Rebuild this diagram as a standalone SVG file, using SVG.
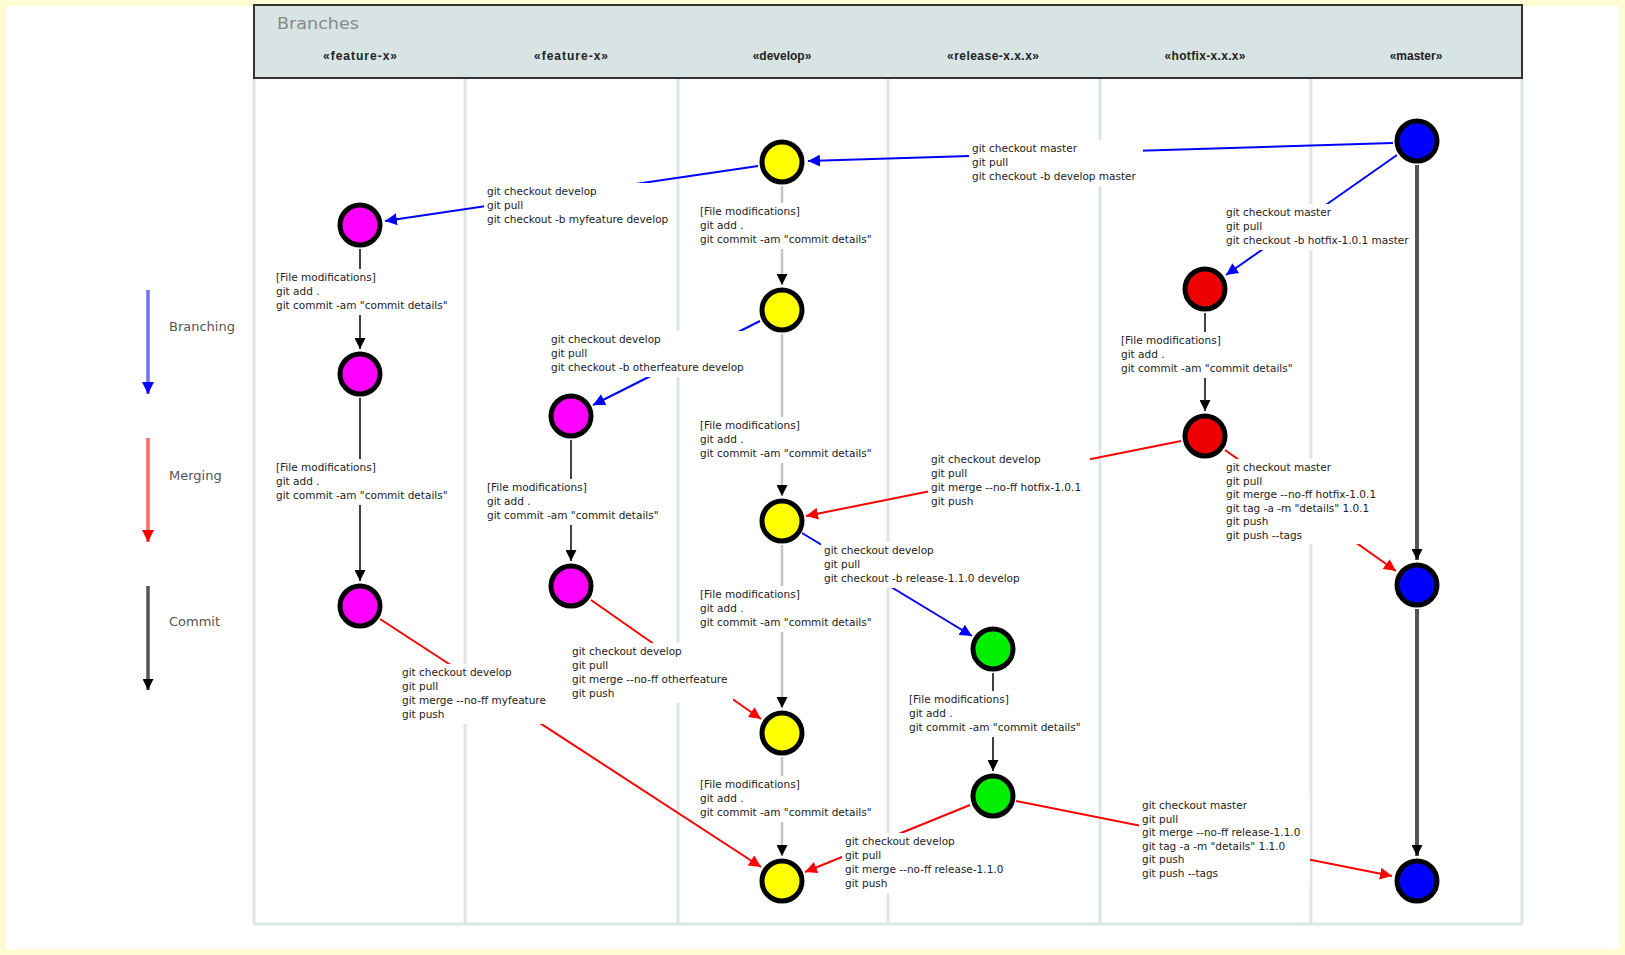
<svg xmlns="http://www.w3.org/2000/svg" width="1625" height="955" viewBox="0 0 1625 955">
<defs>
<marker id="ah-k" viewBox="0 0 10 10" refX="10" refY="5" markerWidth="11" markerHeight="11" markerUnits="userSpaceOnUse" orient="auto"><path d="M0,0 L10,5 L0,10 z" fill="#000"/></marker>
<marker id="ah-b" viewBox="0 0 10 10" refX="10" refY="5" markerWidth="12" markerHeight="12" markerUnits="userSpaceOnUse" orient="auto"><path d="M0,0 L10,5 L0,10 z" fill="#0000ff"/></marker>
<marker id="ah-r" viewBox="0 0 10 10" refX="10" refY="5" markerWidth="12" markerHeight="12" markerUnits="userSpaceOnUse" orient="auto"><path d="M0,0 L10,5 L0,10 z" fill="#ff0000"/></marker>
</defs>
<style>
.lane{stroke:#dbe6e6;stroke-width:3;fill:none}
.node{stroke:#000;stroke-width:5}
.dev{fill:#ffff00}.feat{fill:#ff00ff}.rel{fill:#00ee00}.hot{fill:#ee0000}.mas{fill:#0000ff}
.br{stroke:#0000ff;stroke-width:2;fill:none;marker-end:url(#ah-b)}
.mg{stroke:#ff0000;stroke-width:2;fill:none;marker-end:url(#ah-r)}
.cm{stroke:#000;stroke-width:1.5;fill:none;marker-end:url(#ah-k)}
.cmd{stroke:#c4c4c4;stroke-width:2.5;fill:none;marker-end:url(#ah-k)}
.cmm{stroke:#555;stroke-width:4;fill:none;marker-end:url(#ah-k)}
.lbg{fill:#fff}
.lt{font-family:"DejaVu Sans",Verdana,sans-serif;font-size:10.5px;fill:#222}
.hd{font-family:"Liberation Sans",Arial,sans-serif;font-size:12px;font-weight:bold;fill:#222;text-anchor:middle}
.lg{font-family:"DejaVu Sans",Verdana,sans-serif;font-size:13px;fill:#555}
</style>
<rect x="0" y="0" width="1625" height="955" fill="#fffbd2"/>
<rect x="6" y="6" width="1613" height="943" fill="#ffffff"/>

<g id="lanes">
<line class="lane" x1="254" y1="78" x2="254" y2="924"/>
<line class="lane" x1="465" y1="78" x2="465" y2="924"/>
<line class="lane" x1="678" y1="78" x2="678" y2="924"/>
<line class="lane" x1="888" y1="78" x2="888" y2="924"/>
<line class="lane" x1="1100" y1="78" x2="1100" y2="924"/>
<line class="lane" x1="1311" y1="78" x2="1311" y2="924"/>
<line class="lane" x1="1522" y1="78" x2="1522" y2="924"/>
<line class="lane" x1="254" y1="924" x2="1522" y2="924"/>
</g>

<g id="header">
<rect x="254" y="5" width="1268" height="73" fill="#d8e4e4" stroke="#333" stroke-width="2"/>
<text x="277" y="29" font-family="DejaVu Sans, Verdana, sans-serif" font-size="15" fill="#888" textLength="82" lengthAdjust="spacingAndGlyphs">Branches</text>
<text class="hd" x="360" y="60" textLength="74">«feature-x»</text>
<text class="hd" x="571" y="60" textLength="74">«feature-x»</text>
<text class="hd" x="782" y="60">«develop»</text>
<text class="hd" x="993" y="60" textLength="92">«release-x.x.x»</text>
<text class="hd" x="1205" y="60" textLength="81">«hotfix-x.x.x»</text>
<text class="hd" x="1416" y="60">«master»</text>
</g>

<g id="legend">
<line x1="148" y1="290" x2="148" y2="394" stroke="#7070ff" stroke-width="3.5" marker-end="url(#ah-b)"/>
<text class="lg" x="169" y="331">Branching</text>
<line x1="148" y1="438" x2="148" y2="542" stroke="#ff6666" stroke-width="3.5" marker-end="url(#ah-r)"/>
<text class="lg" x="169" y="480">Merging</text>
<line x1="148" y1="586" x2="148" y2="690" stroke="#555" stroke-width="3.5" marker-end="url(#ah-k)"/>
<text class="lg" x="169" y="626">Commit</text>
</g>

<g id="connectors">
<line class="cmd" x1="782" y1="186" x2="782" y2="285"/>
<line class="cmd" x1="782" y1="334" x2="782" y2="496"/>
<line class="cmd" x1="782" y1="545" x2="782" y2="708"/>
<line class="cmd" x1="782" y1="757" x2="782" y2="856"/>
<line class="cm" x1="360" y1="249" x2="360" y2="349"/>
<line class="cm" x1="360" y1="398" x2="360" y2="581"/>
<line class="cm" x1="571" y1="440" x2="571" y2="561"/>
<line class="cm" x1="993" y1="673" x2="993" y2="771"/>
<line class="cm" x1="1205" y1="313" x2="1205" y2="411"/>
<line class="cmm" x1="1417" y1="165" x2="1417" y2="560"/>
<line class="cmm" x1="1417" y1="609" x2="1417" y2="856"/>
<line class="br" x1="1393" y1="143" x2="808" y2="161"/>
<line class="br" x1="758" y1="166" x2="385" y2="221"/>
<line class="br" x1="760" y1="321" x2="593" y2="405"/>
<line class="br" x1="1397" y1="155" x2="1226" y2="275"/>
<line class="br" x1="802" y1="533" x2="972" y2="636"/>
<line class="mg" x1="1181" y1="441" x2="806" y2="516"/>
<line class="mg" x1="1225" y1="450" x2="1396" y2="571"/>
<line class="mg" x1="591" y1="600" x2="761" y2="719"/>
<line class="mg" x1="380" y1="619" x2="761" y2="867"/>
<line class="mg" x1="970" y1="805" x2="805" y2="872"/>
<line class="mg" x1="1016" y1="801" x2="1392" y2="876"/>

<g id="labels">
<rect class="lbg" x="697" y="203" width="182" height="46"/>
<text class="lt" x="700" y="215"><tspan x="700">[File modifications]</tspan><tspan x="700" dy="14">git add .</tspan><tspan x="700" dy="14">git commit -am "commit details"</tspan></text>
<rect class="lbg" x="697" y="417" width="182" height="46"/>
<text class="lt" x="700" y="429"><tspan x="700">[File modifications]</tspan><tspan x="700" dy="14">git add .</tspan><tspan x="700" dy="14">git commit -am "commit details"</tspan></text>
<rect class="lbg" x="697" y="586" width="182" height="46"/>
<text class="lt" x="700" y="598"><tspan x="700">[File modifications]</tspan><tspan x="700" dy="14">git add .</tspan><tspan x="700" dy="14">git commit -am "commit details"</tspan></text>
<rect class="lbg" x="697" y="776" width="182" height="46"/>
<text class="lt" x="700" y="788"><tspan x="700">[File modifications]</tspan><tspan x="700" dy="14">git add .</tspan><tspan x="700" dy="14">git commit -am "commit details"</tspan></text>
<rect class="lbg" x="273" y="269" width="182" height="46"/>
<text class="lt" x="276" y="281"><tspan x="276">[File modifications]</tspan><tspan x="276" dy="14">git add .</tspan><tspan x="276" dy="14">git commit -am "commit details"</tspan></text>
<rect class="lbg" x="273" y="459" width="182" height="46"/>
<text class="lt" x="276" y="471"><tspan x="276">[File modifications]</tspan><tspan x="276" dy="14">git add .</tspan><tspan x="276" dy="14">git commit -am "commit details"</tspan></text>
<rect class="lbg" x="484" y="479" width="182" height="46"/>
<text class="lt" x="487" y="491"><tspan x="487">[File modifications]</tspan><tspan x="487" dy="14">git add .</tspan><tspan x="487" dy="14">git commit -am "commit details"</tspan></text>
<rect class="lbg" x="906" y="691" width="182" height="46"/>
<text class="lt" x="909" y="703"><tspan x="909">[File modifications]</tspan><tspan x="909" dy="14">git add .</tspan><tspan x="909" dy="14">git commit -am "commit details"</tspan></text>
<rect class="lbg" x="1118" y="332" width="182" height="46"/>
<text class="lt" x="1121" y="344"><tspan x="1121">[File modifications]</tspan><tspan x="1121" dy="14">git add .</tspan><tspan x="1121" dy="14">git commit -am "commit details"</tspan></text>

<rect class="lbg" x="969" y="140" width="174" height="46"/>
<text class="lt" x="972" y="152"><tspan x="972">git checkout master</tspan><tspan x="972" dy="14">git pull</tspan><tspan x="972" dy="14">git checkout -b develop master</tspan></text>
<rect class="lbg" x="484" y="183" width="192" height="46"/>
<text class="lt" x="487" y="195"><tspan x="487">git checkout develop</tspan><tspan x="487" dy="14">git pull</tspan><tspan x="487" dy="14">git checkout -b myfeature develop</tspan></text>
<rect class="lbg" x="548" y="331" width="203" height="46"/>
<text class="lt" x="551" y="343"><tspan x="551">git checkout develop</tspan><tspan x="551" dy="14">git pull</tspan><tspan x="551" dy="14">git checkout -b otherfeature develop</tspan></text>
<rect class="lbg" x="1223" y="204" width="192" height="46"/>
<text class="lt" x="1226" y="216"><tspan x="1226">git checkout master</tspan><tspan x="1226" dy="14">git pull</tspan><tspan x="1226" dy="14">git checkout -b hotfix-1.0.1 master</tspan></text>
<rect class="lbg" x="821" y="542" width="209" height="46"/>
<text class="lt" x="824" y="554"><tspan x="824">git checkout develop</tspan><tspan x="824" dy="14">git pull</tspan><tspan x="824" dy="14">git checkout -b release-1.1.0 develop</tspan></text>

<rect class="lbg" x="928" y="451" width="162" height="60"/>
<text class="lt" x="931" y="463"><tspan x="931">git checkout develop</tspan><tspan x="931" dy="14">git pull</tspan><tspan x="931" dy="14">git merge --no-ff hotfix-1.0.1</tspan><tspan x="931" dy="14">git push</tspan></text>
<rect class="lbg" x="1223" y="459" width="162" height="85"/>
<text class="lt" x="1226" y="471"><tspan x="1226">git checkout master</tspan><tspan x="1226" dy="13.5">git pull</tspan><tspan x="1226" dy="13.5">git merge --no-ff hotfix-1.0.1</tspan><tspan x="1226" dy="13.5">git tag -a -m "details" 1.0.1</tspan><tspan x="1226" dy="13.5">git push</tspan><tspan x="1226" dy="13.5">git push --tags</tspan></text>
<rect class="lbg" x="569" y="643" width="164" height="60"/>
<text class="lt" x="572" y="655"><tspan x="572">git checkout develop</tspan><tspan x="572" dy="14">git pull</tspan><tspan x="572" dy="14">git merge --no-ff otherfeature</tspan><tspan x="572" dy="14">git push</tspan></text>
<rect class="lbg" x="399" y="664" width="153" height="60"/>
<text class="lt" x="402" y="676"><tspan x="402">git checkout develop</tspan><tspan x="402" dy="14">git pull</tspan><tspan x="402" dy="14">git merge --no-ff myfeature</tspan><tspan x="402" dy="14">git push</tspan></text>
<rect class="lbg" x="842" y="833" width="171" height="60"/>
<text class="lt" x="845" y="845"><tspan x="845">git checkout develop</tspan><tspan x="845" dy="14">git pull</tspan><tspan x="845" dy="14">git merge --no-ff release-1.1.0</tspan><tspan x="845" dy="14">git push</tspan></text>
<rect class="lbg" x="1139" y="797" width="171" height="85"/>
<text class="lt" x="1142" y="809"><tspan x="1142">git checkout master</tspan><tspan x="1142" dy="13.5">git pull</tspan><tspan x="1142" dy="13.5">git merge --no-ff release-1.1.0</tspan><tspan x="1142" dy="13.5">git tag -a -m "details" 1.1.0</tspan><tspan x="1142" dy="13.5">git push</tspan><tspan x="1142" dy="13.5">git push --tags</tspan></text>
</g>
</g>

<g id="develop-1"><circle class="node dev" cx="782" cy="162" r="20"/></g>
<g id="develop-2"><circle class="node dev" cx="782" cy="310" r="20"/></g>
<g id="develop-3"><circle class="node dev" cx="782" cy="521" r="20"/></g>
<g id="develop-4"><circle class="node dev" cx="782" cy="733" r="20"/></g>
<g id="develop-5"><circle class="node dev" cx="782" cy="881" r="20"/></g>
<g id="feature-1a"><circle class="node feat" cx="360" cy="225" r="20"/></g>
<g id="feature-1b"><circle class="node feat" cx="360" cy="374" r="20"/></g>
<g id="feature-1c"><circle class="node feat" cx="360" cy="606" r="20"/></g>
<g id="feature-2a"><circle class="node feat" cx="571" cy="416" r="20"/></g>
<g id="feature-2b"><circle class="node feat" cx="571" cy="586" r="20"/></g>
<g id="release-1"><circle class="node rel" cx="993" cy="649" r="20"/></g>
<g id="release-2"><circle class="node rel" cx="993" cy="796" r="20"/></g>
<g id="hotfix-1"><circle class="node hot" cx="1205" cy="289" r="20"/></g>
<g id="hotfix-2"><circle class="node hot" cx="1205" cy="436" r="20"/></g>
<g id="master-1"><circle class="node mas" cx="1417" cy="141" r="20"/></g>
<g id="master-2"><circle class="node mas" cx="1417" cy="585" r="20"/></g>
<g id="master-3"><circle class="node mas" cx="1417" cy="881" r="20"/></g>
</svg>
